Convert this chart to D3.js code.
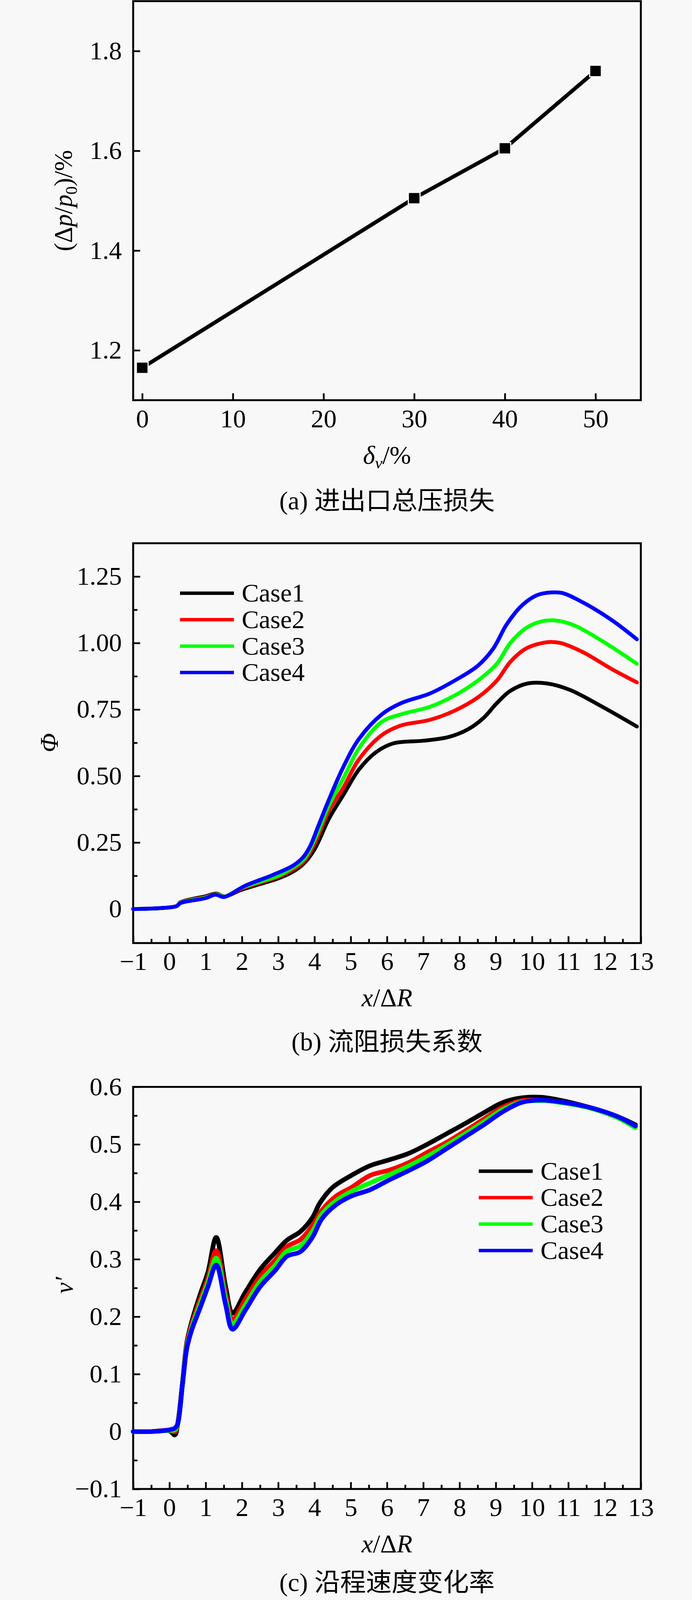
<!DOCTYPE html>
<html>
<head>
<meta charset="utf-8">
<script src="https://cdn.jsdelivr.net/npm/d3@7"></script>
<style>
  html, body { margin: 0; background: #f8f8f8; overflow: hidden; }
  svg { display: block; }
</style>
</head>
<body>
<svg id="fig" width="1772" height="4194" viewBox="0 0 1772 4194" preserveAspectRatio="none"></svg>
<script>

// (a) total pressure loss
const deltaV = [0, 30, 40, 50]
const pressureLoss = [1.165, 1.505, 1.605, 1.76]
const ticksA_x = [0, 10, 20, 30, 40, 50]
const ticksA_y = [1.2, 1.4, 1.6, 1.8]

// (b) flow resistance coefficient, [x/ΔR, Φ]
const phiCase1 = [[-1,0],[0.2,0.011],[0.3,0.025],[1.0,0.048],[1.3,0.058],[1.5,0.047],[2.0,0.073],[2.5,0.094],[3.0,0.115],[3.4,0.14],[3.7,0.17],[4.0,0.224],[4.4,0.34],[4.8,0.43],[5.23,0.525],[5.7,0.59],[6.18,0.623],[7.03,0.633],[7.71,0.647],[8.24,0.676],[8.66,0.718],[9.03,0.774],[9.4,0.82],[9.88,0.848],[10.41,0.848],[11.04,0.824],[11.94,0.76],[12.89,0.686]]
const phiCase2 = [[-1,0],[0.2,0.011],[0.3,0.024],[1.0,0.045],[1.3,0.056],[1.5,0.046],[2.0,0.077],[2.5,0.099],[3.0,0.121],[3.4,0.148],[3.7,0.178],[4.0,0.245],[4.4,0.37],[4.8,0.457],[5.23,0.563],[5.86,0.654],[6.39,0.69],[7.18,0.711],[7.87,0.746],[8.51,0.796],[9.03,0.859],[9.4,0.929],[9.83,0.979],[10.41,1.003],[10.78,1.0],[11.41,0.965],[12.21,0.901],[12.89,0.852]]
const phiCase3 = [[-1,0],[0.2,0.011],[0.3,0.023],[1.0,0.043],[1.3,0.055],[1.5,0.046],[2.0,0.08],[2.5,0.103],[3.0,0.125],[3.4,0.155],[3.7,0.186],[4.0,0.26],[4.4,0.39],[4.8,0.492],[5.23,0.605],[5.86,0.704],[6.39,0.732],[7.18,0.76],[7.87,0.803],[8.51,0.859],[9.03,0.922],[9.4,1.0],[9.83,1.056],[10.25,1.081],[10.62,1.085],[11.15,1.067],[11.94,1.007],[12.89,0.922]]
const phiCase4 = [[-1,0],[0.2,0.011],[0.3,0.022],[1.0,0.041],[1.27,0.054],[1.5,0.045],[2.08,0.087],[2.85,0.128],[3.42,0.164],[3.69,0.195],[3.88,0.236],[4.08,0.303],[4.38,0.405],[4.8,0.535],[5.23,0.64],[5.86,0.732],[6.39,0.774],[7.18,0.81],[7.87,0.859],[8.51,0.915],[8.93,0.979],[9.3,1.07],[9.72,1.141],[10.14,1.18],[10.52,1.19],[10.83,1.188],[11.41,1.152],[12.21,1.085],[12.89,1.014]]
const ticksB_y = [0, 0.25, 0.5, 0.75, 1.0, 1.25]

// (c) velocity change rate along the way, [x/ΔR, v']
const velCase1 = [[-1,0],[-0.5,0],[0,0.001],[0.15,-0.006],[0.22,0.01],[0.36,0.085],[0.48,0.155],[0.61,0.19],[0.85,0.239],[1.06,0.277],[1.29,0.338],[1.55,0.252],[1.74,0.206],[2.09,0.242],[2.5,0.282],[2.91,0.311],[3.24,0.333],[3.61,0.348],[3.94,0.372],[4.15,0.398],[4.5,0.425],[5.02,0.446],[5.54,0.463],[6.06,0.473],[6.59,0.484],[7.11,0.5],[7.63,0.518],[8.15,0.536],[8.67,0.555],[9.2,0.573],[9.72,0.581],[10.24,0.582],[10.76,0.577],[11.54,0.565],[12.33,0.549],[12.85,0.534]]
const velCase2 = [[-1,0],[-0.5,0],[0,0.002],[0.15,0.0],[0.22,0.011],[0.36,0.084],[0.48,0.152],[0.61,0.185],[0.85,0.23],[1.06,0.266],[1.29,0.315],[1.55,0.238],[1.74,0.195],[2.09,0.23],[2.5,0.27],[2.91,0.298],[3.24,0.322],[3.61,0.334],[3.94,0.358],[4.2,0.385],[4.6,0.41],[5.02,0.425],[5.54,0.446],[6.06,0.455],[6.59,0.468],[7.11,0.486],[7.63,0.503],[8.15,0.523],[8.67,0.544],[9.2,0.565],[9.72,0.576],[10.24,0.577],[10.76,0.574],[11.54,0.565],[12.33,0.548],[12.85,0.531]]
const velCase3 = [[-1,0],[-0.5,0],[0,0.002],[0.15,0.003],[0.22,0.011],[0.36,0.083],[0.48,0.148],[0.61,0.18],[0.85,0.223],[1.06,0.259],[1.29,0.302],[1.55,0.23],[1.74,0.187],[2.09,0.22],[2.5,0.261],[2.91,0.289],[3.24,0.314],[3.61,0.323],[3.94,0.348],[4.2,0.378],[4.6,0.402],[5.02,0.418],[5.54,0.433],[6.06,0.447],[6.59,0.462],[7.11,0.479],[7.63,0.498],[8.15,0.518],[8.67,0.539],[9.2,0.561],[9.72,0.574],[10.24,0.576],[10.76,0.573],[11.54,0.564],[12.33,0.547],[12.85,0.529]]
const velCase4 = [[-1,0],[-0.5,0],[0,0.003],[0.15,0.006],[0.22,0.012],[0.36,0.082],[0.48,0.145],[0.61,0.176],[0.85,0.216],[1.06,0.252],[1.29,0.29],[1.55,0.221],[1.74,0.178],[2.09,0.211],[2.5,0.252],[2.91,0.28],[3.24,0.305],[3.61,0.313],[3.94,0.338],[4.2,0.37],[4.6,0.395],[5.02,0.41],[5.54,0.421],[6.06,0.438],[6.59,0.454],[7.11,0.471],[7.63,0.492],[8.15,0.513],[8.67,0.534],[9.2,0.557],[9.72,0.573],[10.24,0.577],[10.76,0.574],[11.54,0.565],[12.33,0.549],[12.85,0.532]]
const ticksC_y = [-0.1, 0, 0.1, 0.2, 0.3, 0.4, 0.5, 0.6]

const ticksBC_x = d3.range(-1, 14)
const caseNames = ['Case1', 'Case2', 'Case3', 'Case4']
const caseColors = ['#000000', '#ff0000', '#00ff00', '#0000ff']


const svg = d3.select('#fig')
// the figure is laid out on a 1772x4194 board and fitted to whatever height the window really shows
const H = Math.min(window.innerHeight || 4194, 4194)
svg.attr('height', H)

const SERIF = '"Liberation Serif", "Times New Roman", "Noto Sans CJK SC", serif'
const FS = 66
const left = 341, right = 1641

// text made of plain / italic / subscript parts
const rich = (sel, parts) => {
    let shift = 0
    parts.forEach(p => {
        const t = sel.append('tspan').text(p.t)
        if (p.i) t.attr('font-style', 'italic')
        const want = p.sub ? 13 : 0
        if (want !== shift) { t.attr('dy', want - shift); shift = want }
        if (p.sub) t.attr('font-size', 43)
    })
    return sel
}

const label = (x, y, anchor = 'middle', rotate = false) => svg.append('text')
    .attr('transform', rotate ? `translate(${x},${y}) rotate(-90)` : `translate(${x},${y})`)
    .attr('text-anchor', anchor)
    .attr('font-family', SERIF)
    .attr('font-size', FS)
    .attr('fill', '#000')

class panel_ {
    constructor(o) {
        Object.entries(o).forEach(n => this[n[0]] = n[1])
        this.x = d3.scaleLinear().domain(this.xDomain).range([left, right])
        this.y = d3.scaleLinear().domain(this.yDomain).range([this.bottom, this.top])
        this.axes()
    }
    axes() {
        const g = svg.append('g')
        const style = s => s.attr('font-family', SERIF).attr('font-size', FS)
            .call(a => a.select('.domain').remove())
            .call(a => a.selectAll('line').attr('stroke', '#000').attr('stroke-width', 4.5))
            .call(a => a.selectAll('text').attr('fill', '#000'))

        if (this.xMinor) g.append('g').attr('transform', `translate(0,${this.bottom})`)
            .call(d3.axisBottom(this.x).tickValues(this.xMinor).tickSize(-11).tickFormat(''))
            .call(style)
        if (this.yMinor) g.append('g').attr('transform', `translate(${left},0)`)
            .call(d3.axisLeft(this.y).tickValues(this.yMinor).tickSize(-11).tickFormat(''))
            .call(style)

        g.append('g').attr('transform', `translate(0,${this.bottom})`)
            .call(d3.axisBottom(this.x).tickValues(this.xTicks).tickSize(-18).tickPadding(24).tickFormat(this.xFormat))
            .call(style)
        g.append('g').attr('transform', `translate(${left},0)`)
            .call(d3.axisLeft(this.y).tickValues(this.yTicks).tickSize(-18).tickPadding(29).tickFormat(this.yFormat))
            .call(style)

        g.append('rect')
            .attr('x', left).attr('y', this.top)
            .attr('width', right - left).attr('height', this.bottom - this.top)
            .attr('fill', 'none').attr('stroke', '#000').attr('stroke-width', 5)
    }
    curves(series, width) {
        const line = d3.line()
            .x(d => this.x(d[0])).y(d => this.y(d[1]))
            .curve(d3.curveCatmullRom.alpha(0.5))
        svg.append('g').selectAll('path').data(series)
            .enter().append('path')
            .attr('d', line)
            .attr('fill', 'none')
            .attr('stroke', (d, i) => caseColors[i])
            .attr('stroke-width', width)
            .attr('stroke-linejoin', 'round')
            .attr('stroke-linecap', 'round')
    }
    legend(x0, y0) {
        const g = svg.append('g')
        const rows = g.selectAll('g').data(caseNames)
            .enter().append('g')
            .attr('transform', (d, i) => `translate(${x0},${y0 + i * 69.3})`)
        rows.append('line')
            .attr('x1', 0).attr('x2', 138)
            .attr('stroke', (d, i) => caseColors[i])
            .attr('stroke-width', 9)
        rows.append('text')
            .attr('x', 158).attr('y', 22)
            .attr('font-family', SERIF).attr('font-size', FS)
            .text(d => d)
    }
}

const fmtFixed = n => d => d === 0 ? '0' : d3.format(`.${n}f`)(d)
const xOverR = [{ t: 'x', i: true }, { t: '/Δ' }, { t: 'R', i: true }]

// ---- (a)
const pa = new panel_({
    top: 3, bottom: 1049, xDomain: [-1, 55], yDomain: [1.1, 1.9],
    xTicks: ticksA_x, yTicks: ticksA_y,
    xFormat: d3.format('d'), yFormat: d3.format('.1f')
})
const ptsA = deltaV.map((d, i) => [d, pressureLoss[i]])
svg.append('path')
    .datum(ptsA)
    .attr('d', d3.line().x(d => pa.x(d[0])).y(d => pa.y(d[1])))
    .attr('fill', 'none').attr('stroke', '#000').attr('stroke-width', 10)
svg.append('g').selectAll('rect').data(ptsA)
    .enter().append('rect')
    .attr('x', d => pa.x(d[0]) - 15).attr('y', d => pa.y(d[1]) - 15)
    .attr('width', 30).attr('height', 30)
    .attr('fill', '#000').attr('stroke', '#f8f8f8').attr('stroke-width', 3)

rich(label(184, 526, 'middle', true), [{ t: '(Δ' }, { t: 'p', i: true }, { t: '/' }, { t: 'p', i: true }, { t: '0', sub: true }, { t: ')/%' }])
rich(label(991, 1215), [{ t: 'δ', i: true }, { t: 'v', i: true, sub: true }, { t: '/%' }])
label(991, 1335).text('(a) 进出口总压损失')

// ---- (b)
const pb = new panel_({
    top: 1424, bottom: 2472, xDomain: [-1, 13], yDomain: [-0.128, 1.375],
    xTicks: ticksBC_x, yTicks: ticksB_y,
    xMinor: d3.range(-0.5, 13, 1), yMinor: [0.125, 0.375, 0.625, 0.875, 1.125],
    xFormat: d3.format('d'), yFormat: fmtFixed(2)
})
pb.curves([phiCase1, phiCase2, phiCase3, phiCase4], 10)
pb.legend(461, 1555)
label(148, 1947, 'middle', true).attr('font-style', 'italic').text('Φ')
rich(label(991, 2638), xOverR)
label(991, 2753).text('(b) 流阻损失系数')

// ---- (c)
const pc = new panel_({
    top: 2849, bottom: 3903, xDomain: [-1, 13], yDomain: [-0.1, 0.6],
    xTicks: ticksBC_x, yTicks: ticksC_y,
    xMinor: d3.range(-0.5, 13, 1), yMinor: [-0.05, 0.05, 0.15, 0.25, 0.35, 0.45, 0.55],
    xFormat: d3.format('d'), yFormat: fmtFixed(1)
})
pc.curves([velCase1, velCase2, velCase3, velCase4], 12)
pc.legend(1226, 3070)
label(186, 3369, 'middle', true).attr('font-style', 'italic').text('v′')
rich(label(991, 4069), xOverR)
label(991, 4170).text('(c) 沿程速度变化率')

</script>
</body>
</html>
